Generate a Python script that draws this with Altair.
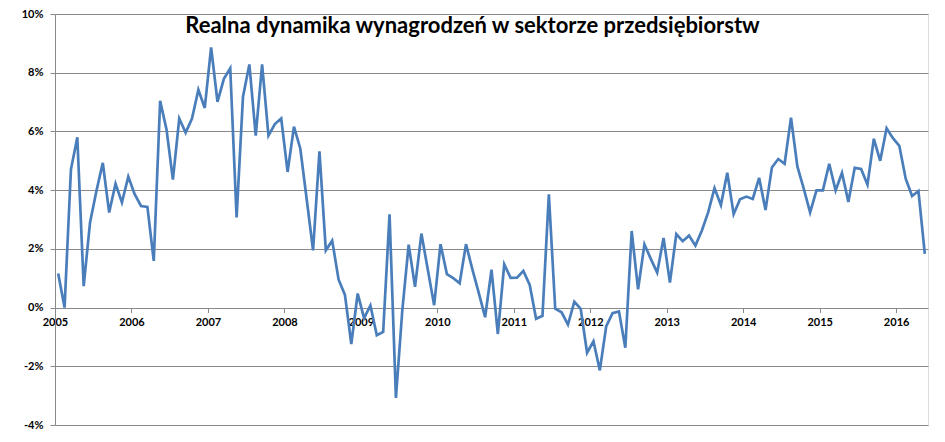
import altair as alt
import pandas as pd

# Real wage dynamics in the enterprise sector, % y/y, monthly Jan 2005 - May 2016
years = list(range(2005, 2017))
w2005 = [1.16, 0.00, 4.70, 5.80, 0.73, 2.90, 3.97, 4.93, 3.24, 4.22, 3.58, 4.46]
w2006 = [3.86, 3.46, 3.43, 1.59, 7.04, 6.07, 4.36, 6.44, 5.96, 6.44, 7.42, 6.80]
w2007 = [8.86, 7.01, 7.79, 8.15, 3.07, 7.18, 8.28, 5.86, 8.28, 5.86, 6.25, 6.44]
w2008 = [4.62, 6.16, 5.41, 3.69, 1.95, 5.32, 1.95, 2.28, 0.96, 0.43, -1.24, 0.48]
w2009 = [-0.36, 0.07, -0.94, -0.83, 3.18, -3.08, -0.10, 2.14, 0.71, 2.52, 1.30, 0.08]
w2010 = [2.16, 1.14, 1.00, 0.83, 2.16, 1.30, 0.50, -0.33, 1.29, -0.90, 1.47, 1.01]
w2011 = [1.02, 1.25, 0.77, -0.38, -0.28, 3.86, -0.04, -0.16, -0.58, 0.20, -0.04, -1.54]
w2012 = [-1.15, -2.14, -0.64, -0.19, -0.13, -1.37, 2.61, 0.62, 2.15, 1.66, 1.19, 2.37]
w2013 = [0.85, 2.50, 2.26, 2.45, 2.11, 2.62, 3.24, 4.07, 3.49, 4.59, 3.18, 3.69]
w2014 = [3.78, 3.70, 4.42, 3.32, 4.77, 5.06, 4.90, 6.47, 4.81, 4.05, 3.24, 3.99]
w2015 = [3.99, 4.90, 3.99, 4.59, 3.60, 4.76, 4.72, 4.19, 5.75, 5.00, 6.11, 5.77]
w2016 = [5.51, 4.39, 3.80, 3.97, 1.83]

series = [w2005, w2006, w2007, w2008, w2009, w2010, w2011, w2012,
          w2013, w2014, w2015, w2016]

TITLE = "Realna dynamika wynagrodzeń w sektorze przedsiębiorstw"
y_ticks = [-4, -2, 0, 2, 4, 6, 8, 10]

rows = []
i = 0
for yr, vals in zip(years, series):
    for m, v in enumerate(vals):
        # month index, plotted at the middle of its month slot
        rows.append({"year": yr, "month": m + 1, "t": i + 0.5, "value": v})
        i += 1
df = pd.DataFrame(rows)
n_months = len(df)

W, H = 873, 411
YMIN, YMAX = -4, 10
zero_offset = -H * (0 - YMIN) / (YMAX - YMIN)

FONT = "Lato"
GRID = "#898989"

x_axis = alt.Axis(
    title=None,
    values=[12 * k for k in range(len(years))],
    labelExpr="2005 + datum.value / 12",
    offset=zero_offset,
    grid=False,
    domain=False,
    ticks=True,
    tickColor=GRID,
    tickSize=5,
    labelFont=FONT,
    labelFontWeight="bold",
    labelFontSize=11,
    labelColor="black",
    labelPadding=4,
    labelFlush=False,
    labelOverlap=False,
)

y_axis = alt.Axis(
    title=None,
    values=y_ticks,
    labelExpr="datum.value + '%'",
    grid=True,
    gridColor=GRID,
    gridWidth=1,
    domain=True,
    domainColor=GRID,
    tickColor=GRID,
    tickSize=5,
    labelFont=FONT,
    labelFontWeight="bold",
    labelFontSize=11,
    labelColor="black",
    labelPadding=7,
)

chart = (
    alt.Chart(df)
    .mark_line(color="#4A7EBB", strokeWidth=2.7)
    .encode(
        x=alt.X("t:Q", scale=alt.Scale(domain=[0, n_months], nice=False, zero=False), axis=x_axis),
        y=alt.Y("value:Q", scale=alt.Scale(domain=[YMIN, YMAX], nice=False), axis=y_axis),
    )
    .properties(
        width=W,
        height=H,
        title=alt.TitleParams(
            text=TITLE,
            font=FONT,
            fontSize=22,
            fontWeight="bold",
            color="black",
            anchor="middle",
            baseline="top",
            offset=-30,
            dx=-19,
        ),
        autosize=alt.AutoSizeParams(type="none"),
        padding={"left": 47, "top": 6, "right": 9, "bottom": 9},
    )
    .configure_view(stroke=None)
    .configure(background="white")
)

chart.save("out.html", embed_options={"renderer": "svg", "actions": False})
